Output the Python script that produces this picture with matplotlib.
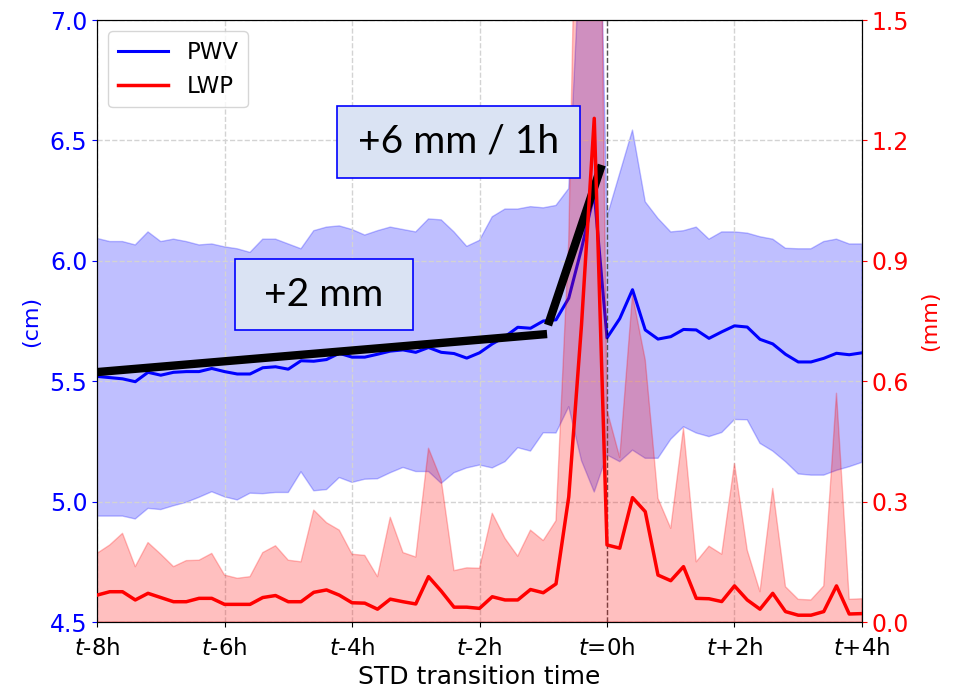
import numpy as np
import matplotlib
matplotlib.use("Agg")
from matplotlib import pyplot as plt
from matplotlib.patches import Rectangle

# time relative to STD transition, 12-min steps
hours = np.round(np.arange(-8, 4.01, 0.2), 1)

pwv_mean = [5.52, 5.515, 5.51, 5.498, 5.537, 5.525, 5.537, 5.54, 5.54, 5.553,
            5.54, 5.53, 5.53, 5.556, 5.56, 5.55, 5.585, 5.583, 5.59, 5.616,
            5.60, 5.60, 5.612, 5.625, 5.63, 5.62, 5.64, 5.62, 5.615, 5.596,
            5.618, 5.655, 5.685, 5.724, 5.72, 5.75, 5.755, 5.845, 6.05, 6.28,
            5.68, 5.76, 5.88, 5.713, 5.675, 5.685, 5.715, 5.713, 5.678, 5.705,
            5.73, 5.725, 5.674, 5.655, 5.612, 5.58, 5.58, 5.595, 5.616, 5.61,
            5.618]
pwv_upper = [6.093, 6.08, 6.08, 6.066, 6.12, 6.08, 6.09, 6.08, 6.066, 6.07,
             6.058, 6.05, 6.035, 6.09, 6.09, 6.07, 6.05, 6.125, 6.14, 6.145,
             6.13, 6.107, 6.125, 6.14, 6.13, 6.12, 6.174, 6.17, 6.12, 6.06,
             6.085, 6.183, 6.215, 6.215, 6.225, 6.22, 6.23, 6.30, 7.4, 8.6,
             6.183, 6.363, 6.543, 6.245, 6.176, 6.12, 6.125, 6.14, 6.09, 6.12,
             6.12, 6.115, 6.1, 6.09, 6.052, 6.05, 6.05, 6.08, 6.09, 6.07,
             6.07]
pwv_lower = [4.94, 4.94, 4.94, 4.928, 4.972, 4.967, 4.983, 4.997, 5.018, 5.041,
             5.02, 5.007, 5.035, 5.033, 5.038, 5.038, 5.124, 5.045, 5.05, 5.10,
             5.08, 5.093, 5.095, 5.12, 5.142, 5.125, 5.125, 5.076, 5.12, 5.14,
             5.152, 5.14, 5.166, 5.224, 5.21, 5.286, 5.285, 5.394, 5.17, 5.04,
             5.194, 5.166, 5.214, 5.18, 5.18, 5.259, 5.311, 5.285, 5.27, 5.287,
             5.341, 5.34, 5.242, 5.21, 5.166, 5.115, 5.11, 5.11, 5.13, 5.145,
             5.163]

lwp_mean = [0.067, 0.0755, 0.0755, 0.055, 0.0715, 0.061, 0.0506, 0.0506, 0.059, 0.059,
            0.044, 0.044, 0.044, 0.061, 0.066, 0.0506, 0.0506, 0.074, 0.08, 0.067,
            0.048, 0.047, 0.032, 0.057, 0.0506, 0.045, 0.113, 0.077, 0.037, 0.037,
            0.034, 0.063, 0.055, 0.055, 0.081, 0.073, 0.095, 0.312, 0.74, 1.255,
            0.192, 0.184, 0.31, 0.275, 0.117, 0.103, 0.138, 0.059, 0.058, 0.051,
            0.09, 0.055, 0.032, 0.0715, 0.026, 0.017, 0.017, 0.026, 0.09, 0.02,
            0.021]
lwp_upper = [0.171, 0.192, 0.221, 0.138, 0.198, 0.169, 0.138, 0.153, 0.154, 0.171,
             0.117, 0.109, 0.113, 0.173, 0.19, 0.154, 0.15, 0.279, 0.2475, 0.229,
             0.169, 0.166, 0.113, 0.261, 0.173, 0.162, 0.433, 0.354, 0.128, 0.135,
             0.134, 0.271, 0.2085, 0.164, 0.229, 0.203, 0.2525, 0.95, 2.6, 3.2,
             0.528, 0.41, 0.815, 0.653, 0.308, 0.2335, 0.483, 0.15, 0.189, 0.169,
             0.395, 0.179, 0.0755, 0.333, 0.088, 0.0565, 0.055, 0.0897, 0.57, 0.0565,
             0.058]

xticks = [-8, -6, -4, -2, 0, 2, 4]
xticklabels = ['$t$-8h', '$t$-6h', '$t$-4h', '$t$-2h', '$t$=0h', '$t$+2h', '$t$+4h']

# trend lines (hours, cm)
trend_slow = ([-8.0, -0.94], [5.538, 5.696])
trend_fast = ([-0.925, -0.083], [5.733, 6.398])

fig = plt.figure(figsize=(9.55, 6.95), dpi=100)
ax = fig.add_axes([0.1016, 0.105, 0.801, 0.8662])
ax2 = ax.twinx()

ax.fill_between(hours, pwv_lower, pwv_upper, color='blue', alpha=0.25)
l1, = ax.plot(hours, pwv_mean, color='blue', lw=2.2, label='PWV')
ax.set_ylim(4.5, 7.0)
ax.set_xlim(-8, 4)
ax.set_xticks(xticks)
ax.set_xticklabels(xticklabels, fontsize=16.5)
ax.tick_params(axis='x', pad=7)
ax.set_yticks([4.5, 5.0, 5.5, 6.0, 6.5, 7.0])
ax.tick_params(axis='y', colors='blue', labelsize=17)
ax.set_ylabel('(cm)', color='blue', fontsize=16, labelpad=6)
ax.set_xlabel('STD transition time', fontsize=18, labelpad=4)
ax.grid(True, linestyle='--', color='lightgray', lw=1)
ax.axvline(0, color='black', ls='--', lw=1, alpha=0.6)

ax2.fill_between(hours, 0, lwp_upper, color='red', alpha=0.25)
l2, = ax2.plot(hours, lwp_mean, color='red', lw=2.5, label='LWP', zorder=4)
ax2.set_ylim(0, 1.5)
ax2.set_yticks([0.0, 0.3, 0.6, 0.9, 1.2, 1.5])
ax2.tick_params(axis='y', colors='red', labelsize=17)
ax2.set_ylabel('(mm)', color='red', fontsize=16, labelpad=8)

# annotations drawn in PWV coordinates, on top of everything
ax2.plot(*trend_slow, color='black', lw=6, transform=ax.transData, zorder=3,
         solid_capstyle='butt')
ax2.plot(*trend_fast, color='black', lw=6, transform=ax.transData, zorder=3,
         solid_capstyle='butt')

for (x0, x1, y0, y1, txt) in [(-4.24, -0.424, 6.345, 6.644, '+6 mm / 1h'),
                               (-5.835, -3.048, 5.713, 6.006, '+2 mm')]:
    ax2.add_patch(Rectangle((x0, y0), x1 - x0, y1 - y0, transform=ax.transData,
                            facecolor='#dae3f3', edgecolor='blue', lw=1.2, zorder=5))
    ax2.text((x0 + x1) / 2, (y0 + y1) / 2, txt, transform=ax.transData,
             ha='center', va='center', fontsize=28, family='Lato', zorder=6)

leg = ax2.legend([l1, l2], ['PWV', 'LWP'], loc='upper left', fontsize=16.5,
                 handlelength=2.2)
leg.set_zorder(7)

fig.savefig('out.png', dpi=100)
